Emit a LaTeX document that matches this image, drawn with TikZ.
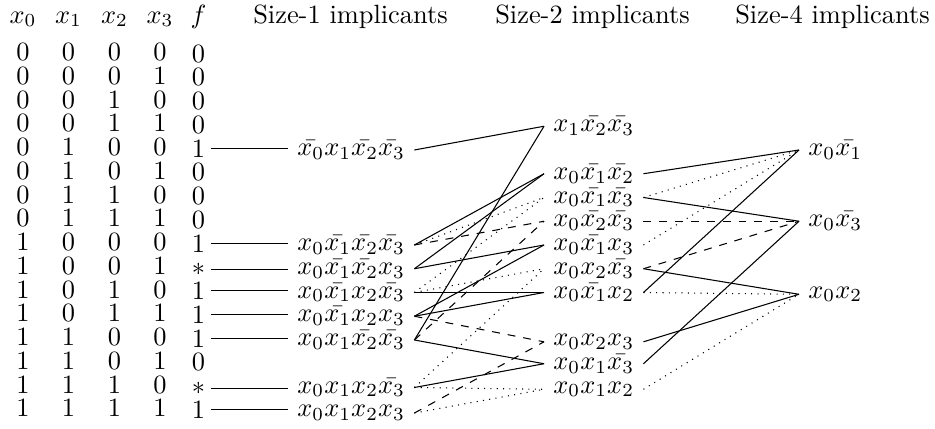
\documentclass[tikz,border=0pt]{standalone}
\usepackage{amsmath,amssymb}
\usepackage{tikz}
\usetikzlibrary{positioning}

\begin{document}
\begin{tikzpicture}[
        x=0.3788pt, y=-0.3788pt,
        every node/.style={inner ysep=0.5pt},
        hdr/.style={anchor=base},
        bit/.style={anchor=base},
        fval/.style={anchor=base, inner xsep=2pt, yshift=-0.6pt},
        imp/.style={anchor=base west},
        wire/.style={draw=black},
        wdot/.style={draw=black, dotted},
        wdash/.style={draw=black, dashed}
      ]
        \useasboundingbox (0,0) rectangle (935,428);
        % header row
        \node[hdr] (hx0) at (23,23)    {$x_0$};
        \node[hdr] (hx1) at (68.5,23)  {$x_1$};
        \node[hdr] (hx2) at (114.5,23) {$x_2$};
        \node[hdr] (hx3) at (160,23)   {$x_3$};
        \node[hdr] (hf)  at (198.5,23) {$f$};
        \node[hdr] (hs1) at (350.5,23) {Size-1 implicants};
        \node[hdr] (hs2) at (592.5,23) {Size-2 implicants};
        \node[hdr] (hs4) at (832.5,23) {Size-4 implicants};
        % truth table
        \foreach \r/\a/\b/\c/\d/\v in {0/0/0/0/0/0, 1/0/0/0/1/0, 2/0/0/1/0/0, 3/0/0/1/1/0,
            4/0/1/0/0/1, 5/0/1/0/1/0, 6/0/1/1/0/0, 7/0/1/1/1/0, 8/1/0/0/0/1, 9/1/0/0/1/$*$,
            10/1/0/1/0/1, 11/1/0/1/1/1, 12/1/1/0/0/1, 13/1/1/0/1/0, 14/1/1/1/0/$*$, 15/1/1/1/1/1} {
          \coordinate (row\r) at (0,{60.5+23.75*\r});
          \node[bit]  (a\r) at (row\r -| hx0) {\a};
          \node[bit]  (b\r) at (row\r -| hx1) {\b};
          \node[bit]  (c\r) at (row\r -| hx2) {\c};
          \node[bit]  (d\r) at (row\r -| hx3) {\d};
          \node[fval] (f\r) at (row\r -| hf)  {\v};
        }
        \coordinate (s1) at (288,0);
        \coordinate (s2) at (544,0);
        \coordinate (s4) at (799,0);
        % size-1 implicants
        \node[imp] (m4)  at (row4 -| s1)  {$\bar{x_0}x_1\bar{x_2}\bar{x_3}$};
        \node[imp] (m8)  at (row8 -| s1)  {$x_0\bar{x_1}\bar{x_2}\bar{x_3}$};
        \node[imp] (m9)  at (row9 -| s1)  {$x_0\bar{x_1}\bar{x_2}x_3$};
        \node[imp] (m10) at (row10 -| s1) {$x_0\bar{x_1}x_2\bar{x_3}$};
        \node[imp] (m11) at (row11 -| s1) {$x_0\bar{x_1}x_2x_3$};
        \node[imp] (m12) at (row12 -| s1) {$x_0x_1\bar{x_2}\bar{x_3}$};
        \node[imp] (m14) at (row14 -| s1) {$x_0x_1x_2\bar{x_3}$};
        \node[imp] (m15) at (row15 -| s1) {$x_0x_1x_2x_3$};
        % size-2 implicants
        \node[imp] (p4_12)  at (row3 -| s2)  {$x_1\bar{x_2}\bar{x_3}$};
        \node[imp] (p8_9)   at (row5 -| s2)  {$x_0\bar{x_1}\bar{x_2}$};
        \node[imp] (p8_10)  at (row6 -| s2)  {$x_0\bar{x_1}\bar{x_3}$};
        \node[imp] (p8_12)  at (row7 -| s2)  {$x_0\bar{x_2}\bar{x_3}$};
        \node[imp] (p9_11)  at (row8 -| s2)  {$x_0\bar{x_1}x_3$};
        \node[imp] (p10_14) at (row9 -| s2)  {$x_0x_2\bar{x_3}$};
        \node[imp] (p10_11) at (row10 -| s2) {$x_0\bar{x_1}x_2$};
        \node[imp] (p11_15) at (row12 -| s2) {$x_0x_2x_3$};
        \node[imp] (p12_14) at (row13 -| s2) {$x_0x_1\bar{x_3}$};
        \node[imp] (p14_15) at (row14 -| s2) {$x_0x_1x_2$};
        % size-4 implicants
        \node[imp] (q0n1) at (row4 -| s4)  {$x_0\bar{x_1}$};
        \node[imp] (q0n3) at (row7 -| s4)  {$x_0\bar{x_3}$};
        \node[imp] (q02)  at (row10 -| s4) {$x_0x_2$};
        % minterms
        \draw[wire] (f4.east)  -- (f4.east -| m4.west);
        \draw[wire] (f8.east)  -- (f8.east -| m8.west);
        \draw[wire] (f9.east)  -- (f9.east -| m9.west);
        \draw[wire] (f10.east) -- (f10.east -| m10.west);
        \draw[wire] (f11.east) -- (f11.east -| m11.west);
        \draw[wire] (f12.east) -- (f12.east -| m12.west);
        \draw[wire] (f14.east) -- (f14.east -| m14.west);
        \draw[wire] (f15.east) -- (f15.east -| m15.west);
        % size-1 -> size-2
        \draw[wire]  (m4.east)  -- (p4_12.west);
        \draw[wire]  (m12.east) -- (p4_12.west);
        \draw[wire]  (m8.east)  -- (p8_9.west);
        \draw[wire]  (m9.east)  -- (p8_9.west);
        \draw[wdot]  (m8.east)  -- (p8_10.west);
        \draw[wdot]  (m10.east) -- (p8_10.west);
        \draw[wdash] (m8.east)  -- (p8_12.west);
        \draw[wdash] (m12.east) -- (p8_12.west);
        \draw[wire]  (m9.east)  -- (p9_11.west);
        \draw[wire]  (m11.east) -- (p9_11.west);
        \draw[wdot]  (m10.east) -- (p10_14.west);
        \draw[wdot]  (m14.east) -- (p10_14.west);
        \draw[wire]  (m10.east) -- (p10_11.west);
        \draw[wire]  (m11.east) -- (p10_11.west);
        \draw[wdash] (m11.east) -- (p11_15.west);
        \draw[wdash] (m15.east) -- (p11_15.west);
        \draw[wire]  (m12.east) -- (p12_14.west);
        \draw[wire]  (m14.east) -- (p12_14.west);
        \draw[wdot]  (m14.east) -- (p14_15.west);
        \draw[wdot]  (m15.east) -- (p14_15.west);
        % size-2 -> size-4
        \draw[wire]  (p8_9.east)   -- (q0n1.west);
        \draw[wdot]  (p8_10.east)  -- (q0n1.west);
        \draw[wdot]  (p9_11.east)  -- (q0n1.west);
        \draw[wire]  (p10_11.east) -- (q0n1.west);
        \draw[wire]  (p8_10.east)  -- (q0n3.west);
        \draw[wdash] (p8_12.east)  -- (q0n3.west);
        \draw[wdash] (p10_14.east) -- (q0n3.west);
        \draw[wire]  (p12_14.east) -- (q0n3.west);
        \draw[wire]  (p10_14.east) -- (q02.west);
        \draw[wdot]  (p10_11.east) -- (q02.west);
        \draw[wire]  (p11_15.east) -- (q02.west);
        \draw[wdot]  (p14_15.east) -- (q02.west);
      \end{tikzpicture}
\end{document}
